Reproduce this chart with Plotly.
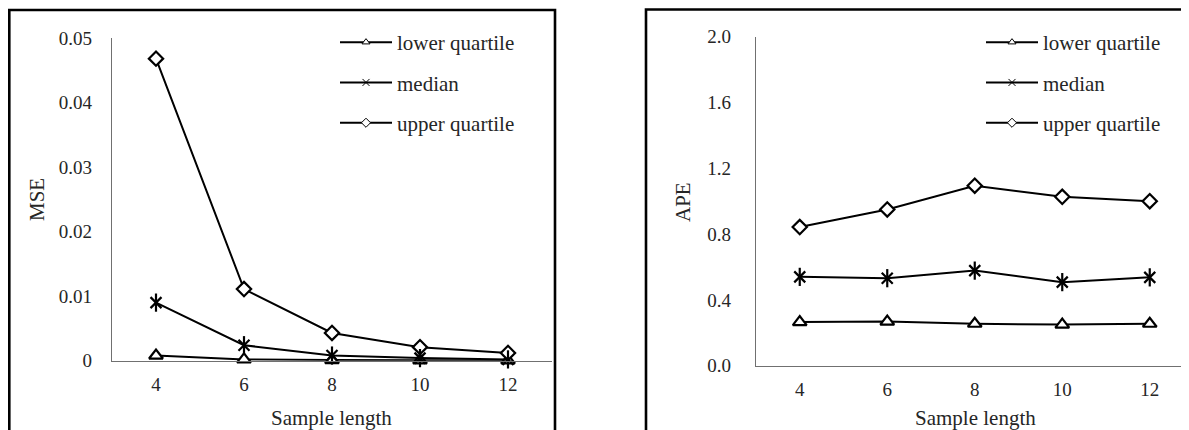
import plotly.graph_objects as go

sample_length = [4, 6, 8, 10, 12]
series_names = ["lower quartile", "median", "upper quartile"]

mse_lower = [0.0008, 0.0002, 0.0001, 0.00005, 0.00003]
mse_median = [0.0090, 0.0024, 0.0008, 0.0004, 0.0002]
mse_upper = [0.0468, 0.0111, 0.0043, 0.0021, 0.0012]

ape_lower = [0.265, 0.268, 0.255, 0.250, 0.255]
ape_median = [0.540, 0.532, 0.578, 0.508, 0.537]
ape_upper = [0.843, 0.950, 1.094, 1.027, 1.000]

mse_ticks = [0, 0.01, 0.02, 0.03, 0.04, 0.05]
mse_ticktext = ["0", "0.01", "0.02", "0.03", "0.04", "0.05"]
ape_ticks = [0.0, 0.4, 0.8, 1.2, 1.6, 2.0]

symbols = ["triangle-up", "x-thin-open", "diamond"]
fills = ["white", "black", "white"]
sizes = [12, 11, 11]

W, H = 1189, 430
OFF = 8  # page body margin
FONT = "Times New Roman, Liberation Serif, serif"
TXT = "#262626"
TICK_SIZE = 19
TEXT_SIZE = 21

def PX(x):
    return (x - OFF) / W

def PY(y):
    return 1 - (y - OFF) / H

fig = go.Figure()

panels = [
    ("x", "y", "legend", [mse_lower, mse_median, mse_upper]),
    ("x2", "y2", "legend2", [ape_lower, ape_median, ape_upper]),
]
for xa, ya, lg, data in panels:
    for name, vals, sym, fc, sz in zip(series_names, data, symbols, fills, sizes):
        fig.add_trace(go.Scatter(
            x=sample_length, y=vals, mode="lines+markers", name=name,
            xaxis=xa, yaxis=ya, showlegend=False, cliponaxis=False,
            line=dict(color="black", width=2),
            marker=dict(symbol=sym, size=sz, color=fc,
                        line=dict(color="black", width=2.2)),
        ))
    # vertical stroke completing the star marker of the median series
    fig.add_trace(go.Scatter(
        x=sample_length, y=data[1], mode="markers", showlegend=False,
        xaxis=xa, yaxis=ya, cliponaxis=False, hoverinfo="skip",
        marker=dict(symbol="line-ns-open", size=13, color="black",
                    line=dict(color="black", width=2.2)),
    ))
    for i, (name, sym, fc) in enumerate(zip(series_names, symbols, fills)):
        fig.add_trace(go.Scatter(
            x=[None], y=[None], mode="lines+markers", name=name,
            xaxis=xa, yaxis=ya, legend=lg, legendgroup=f"{lg}{i}",
            line=dict(color="black", width=2),
            marker=dict(symbol=sym, size=7, color=fc,
                        line=dict(color="black", width=1)),
        ))

axis_common = dict(showgrid=False, zeroline=False, showline=True,
                   linecolor="#707070", linewidth=1.2, ticks="", automargin=False,
                   tickfont=dict(family=FONT, size=TICK_SIZE, color=TXT))

leg_common = dict(xanchor="left", yanchor="top", bgcolor="rgba(0,0,0,0)",
                  traceorder="grouped", tracegroupgap=10, itemwidth=52,
                  font=dict(family=FONT, size=TEXT_SIZE, color=TXT))

ann_font = dict(family=FONT, size=TEXT_SIZE, color=TXT)

fig.update_layout(
    width=W, height=H, margin=dict(l=0, r=0, t=0, b=0, pad=0, autoexpand=False),
    paper_bgcolor="white", plot_bgcolor="white",
    font=dict(family=FONT, size=TEXT_SIZE, color=TXT),
    xaxis=dict(domain=[PX(112), PX(552)], range=[3, 13],
               tickvals=sample_length, ticklabelstandoff=6, anchor="y", **axis_common),
    yaxis=dict(domain=[PY(360.7), PY(38)], range=[0, 0.05],
               tickvals=mse_ticks, ticktext=mse_ticktext, ticklabelstandoff=15,
               anchor="x", **axis_common),
    xaxis2=dict(domain=[PX(756), 1], range=[3, 3 + (W - (756 - OFF)) / 43.75],
                tickvals=sample_length, ticklabelstandoff=6, anchor="y2", **axis_common),
    yaxis2=dict(domain=[PY(365.7), PY(36.7)], range=[0, 2.0],
                tickvals=ape_ticks, tickformat=".1f", ticklabelstandoff=20,
                anchor="x2", **axis_common),
    legend=dict(x=PX(335), y=PY(22), **leg_common),
    legend2=dict(x=PX(981), y=PY(22), **leg_common),
    shapes=[
        dict(type="rect", xref="paper", yref="paper", x0=1.3 / W, x1=PX(555),
             y0=-0.2, y1=PY(10), line=dict(color="black", width=2.6)),
        dict(type="rect", xref="paper", yref="paper", x0=PX(646), x1=1.2,
             y0=-0.2, y1=PY(9.5), line=dict(color="black", width=2.6)),
    ],
    annotations=[
        dict(text="Sample length", xref="paper", yref="paper", x=PX(331), y=PY(418),
             xanchor="center", yanchor="middle", showarrow=False, font=ann_font),
        dict(text="Sample length", xref="paper", yref="paper", x=PX(975), y=PY(418),
             xanchor="center", yanchor="middle", showarrow=False, font=ann_font),
        dict(text="MSE", xref="paper", yref="paper", x=PX(37), y=PY(200), textangle=-90,
             xanchor="center", yanchor="middle", showarrow=False, font=ann_font),
        dict(text="APE", xref="paper", yref="paper", x=PX(683), y=PY(202), textangle=-90,
             xanchor="center", yanchor="middle", showarrow=False, font=ann_font),
    ],
)

fig.write_html("out.html")
